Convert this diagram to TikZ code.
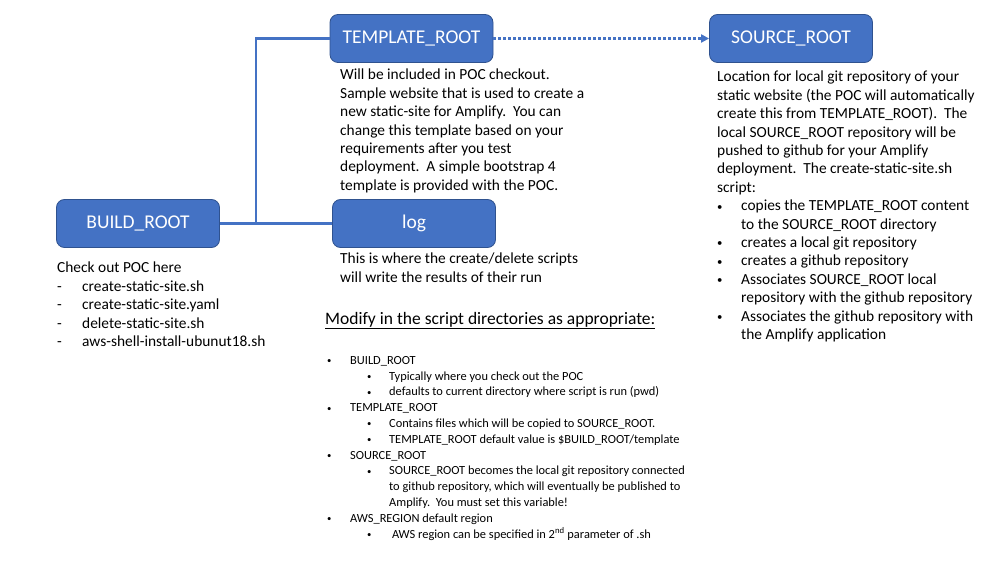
\documentclass[tikz,border=0pt]{standalone}
\usepackage{fontspec}
\setmainfont{Carlito}
\usetikzlibrary{positioning,arrows.meta}

\definecolor{boxblue}{HTML}{4472C4}
\definecolor{boxedge}{HTML}{2F528F}

\newcommand{\bdot}{\raisebox{0.5pt}{\scalebox{0.7}{\textbullet}}}
\newcommand{\bul}[1]{\makebox[24pt][l]{\bdot}#1}
\newcommand{\dsh}[1]{\makebox[25pt][l]{-}#1}
\newcommand{\lone}[1]{\makebox[23pt][l]{\bdot}#1}
\newcommand{\ltwo}[1]{\hspace*{40pt}\makebox[22pt][l]{\bdot}#1}

\tikzset{
  rootbox/.style={draw=boxedge, fill=boxblue, line width=0.8pt, rounded corners=8pt,
    minimum width=163pt, minimum height=48pt, text=white,
    font=\fontsize{19.5}{22}\selectfont},
  note/.style={anchor=north west, inner sep=0pt, align=left,
    font=\fontsize{15.4}{18.4}\selectfont},
  smallnote/.style={anchor=north west, inner sep=0pt, align=left,
    font=\fontsize{12.4}{15.8}\selectfont},
  link/.style={draw=boxblue, line width=2.5pt},
}

\begin{document}
\begin{tikzpicture}[x=1pt,y=-1pt]
\useasboundingbox (0,0) rectangle (1004,577);

%% boxes
\node[rootbox] (template) at (411.5,38.5) {TEMPLATE\_ROOT};
\node[rootbox] (source) at (791,38.5) {SOURCE\_ROOT};
\node[rootbox] (build) at (138,223.5) {BUILD\_ROOT};
\node[rootbox] (log) at (414,223.5) {log};

%% connectors
\coordinate (split) at (256,223);
\draw[link] (build.east) -- (log.west);
\draw[link] (split) |- (template.west);
\draw[draw=boxblue, line width=2.5pt, dash pattern=on 3pt off 2pt,
  -{Triangle[length=8pt,width=8pt]}] (template.east) -- (source.west);

%% notes
\node[note] (templatenote) at (340,69) {%
Will be included in POC checkout.\\
Sample website that is used to create a\\
new static-site for Amplify.\ \ You can\\
change this template based on your\\
requirements after you test\\
deployment.\ \ A simple bootstrap 4\\
template is provided with the POC.};

\node[note] (sourcenote) at (717,71) {%
Location for local git repository of your\\
static website (the POC will automatically\\
create this from TEMPLATE\_ROOT).\ \ The\\
local SOURCE\_ROOT repository will be\\
pushed to github for your Amplify\\
deployment.\ \ The create-static-site.sh\\
script:\\
\bul{copies the TEMPLATE\_ROOT content}\\
\hspace*{24pt}to the SOURCE\_ROOT directory\\
\bul{creates a local git repository}\\
\bul{creates a github repository}\\
\bul{Associates SOURCE\_ROOT local}\\
\hspace*{24pt}repository with the github repository\\
\bul{Associates the github repository with}\\
\hspace*{24pt}the Amplify application};

\node[note] (buildnote) at (57,262) {%
Check out POC here\\
\dsh{create-static-site.sh}\\
\dsh{create-static-site.yaml}\\
\dsh{delete-static-site.sh}\\
\dsh{aws-shell-install-ubunut18.sh}};

\node[note] (lognote) at (340,253) {%
This is where the create/delete scripts\\
will write the results of their run};

\node[anchor=north west, inner sep=0pt, font=\fontsize{17.5}{20}\selectfont]
  (heading) at (325,312) {\underline{Modify in the script directories as appropriate:}};

\node[smallnote] (varlist) at (327,356) {%
\lone{BUILD\_ROOT}\\
\ltwo{Typically where you check out the POC}\\
\ltwo{defaults to current directory where script is run (pwd)}\\
\lone{TEMPLATE\_ROOT}\\
\ltwo{Contains files which will be copied to SOURCE\_ROOT.}\\
\ltwo{TEMPLATE\_ROOT default value is \$BUILD\_ROOT/template}\\
\lone{SOURCE\_ROOT}\\
\ltwo{SOURCE\_ROOT becomes the local git repository connected}\\
\hspace*{62pt}to github repository, which will eventually be published to\\
\hspace*{62pt}Amplify.\ \ You must set this variable!\\
\lone{AWS\_REGION default region}\\
\ltwo{\ AWS region can be specified in 2\textsuperscript{nd} parameter of .sh}};

\end{tikzpicture}
\end{document}
